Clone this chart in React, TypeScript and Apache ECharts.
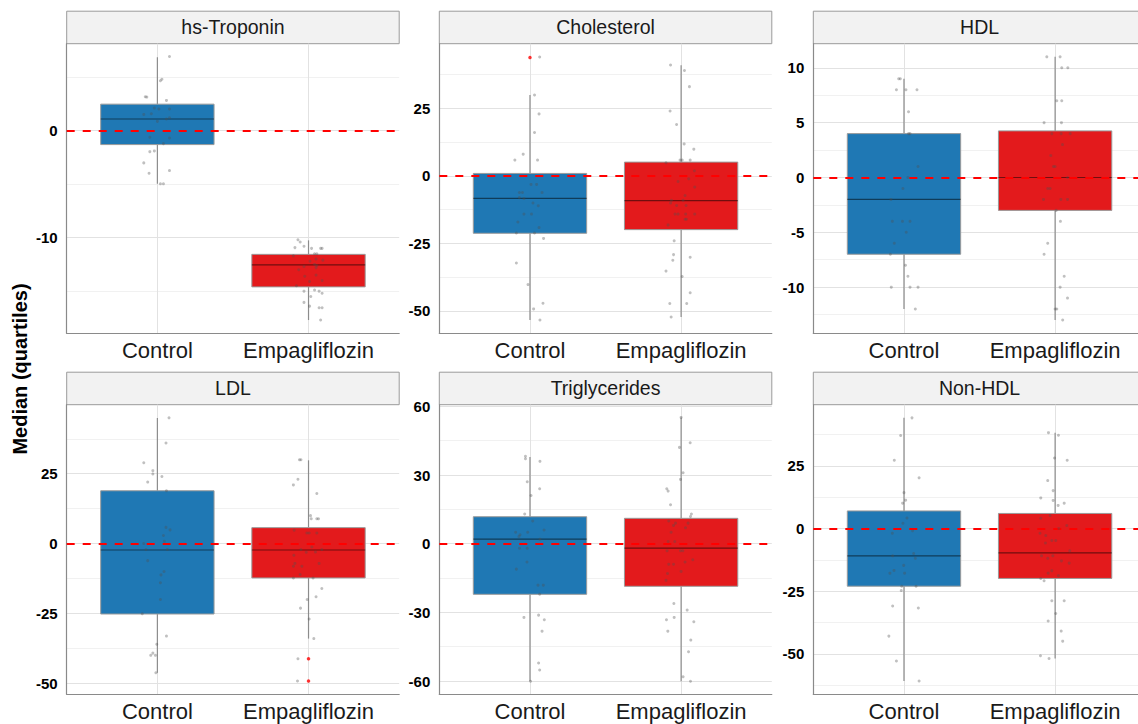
import React, { useEffect, useRef } from "react";
import * as echarts from "echarts";

// ---------- DATA ----------
const groups = ["Control", "Empagliflozin"];
const groupColors = ["#1F78B4", "#E31A1C"];
const panelTitles = ["hs-Troponin", "Cholesterol", "HDL", "LDL", "Triglycerides", "Non-HDL"];
const yTitle = "Median (quartiles)";

// y-axis ranges per panel
const yRanges = [
  [-18.93, 8.13],
  [-58.3, 48.9],
  [-14.2, 12.2],
  [-53.9, 49.7],
  [-65.75, 60.75],
  [-66.05, 49.35],
];
const majorTicks = [
  [-10, 0],
  [-50, -25, 0, 25],
  [-10, -5, 0, 5, 10],
  [-50, -25, 0, 25],
  [-60, -30, 0, 30, 60],
  [-50, -25, 0, 25],
];
const minorTicks = [
  [-15, -5, 5],
  [-37.5, -12.5, 12.5, 37.5],
  [-12.5, -7.5, -2.5, 2.5, 7.5],
  [-37.5, -12.5, 12.5, 37.5],
  [-45, -15, 15, 45],
  [-62.5, -37.5, -12.5, 12.5, 37.5],
];

// box stats: [lower whisker, Q1, median, Q3, upper whisker] for Control, Empagliflozin
const troponinStats = [[-4.97, -1.3, 1.09, 2.48, 6.87], [-17.7, -14.6, -12.55, -11.56, -10.25]];
const cholesterolStats = [[-53.4, -21.3, -8.4, 0.86, 29.9], [-52.3, -19.95, -9.2, 5.05, 40.9]];
const hdlStats = [[-12, -7, -2, 4, 9], [-13, -3, 0, 4.25, 11]];
const ldlStats = [[-46.2, -25.2, -2.3, 18.9, 44.9], [-34, -12.3, -2.3, 5.7, 29.8]];
const trigStats = [[-60.1, -22.1, 2, 11.8, 37.9], [-60.1, -18.6, -1.9, 11.1, 55.2]];
const nonHdlStats = [[-60.8, -23, -10.9, 7, 44.1], [-51.8, -19.9, -9.7, 6, 38.2]];

// jittered observations [x position, value]
const troponinPts = [
  [1.08, 6.93], [1.03, 4.8], [1.02, 4.66], [0.92, 3.17], [0.93, 3.14], [1.06, 2.83], [0.98, 2.11], [1.01, 2.02], [1.08, 2.02],
  [0.91, 1.52], [0.96, 1.58], [1.08, 1.21], [1.06, 1.09], [1.0, 0.87], [0.95, -0.62], [1.08, -0.68], [1.04, -1.21], [0.95, -1.96],
  [0.98, -1.89], [0.91, -3.01], [0.945, -3.98], [1.08, -3.73], [1.02, -4.97], [1.04, -4.97],
  [1.93, -10.2], [1.945, -10.4], [1.97, -10.8], [1.91, -10.93], [2.02, -11.0], [2.08, -11.0], [2.09, -11.0], [1.9, -11.7], [2.04, -11.5],
  [2.055, -11.5], [2.01, -12.2], [2.05, -12.0], [2.095, -12.1], [2.04, -12.5], [2.055, -12.6], [1.935, -13.0], [1.97, -12.7], [2.05, -12.8],
  [1.975, -13.6], [2.05, -13.5], [2.007, -14.1], [2.09, -14.0], [1.92, -14.5], [1.97, -15.0], [2.04, -14.9], [2.07, -15.0], [2.09, -15.2],
  [2.015, -15.5], [1.97, -16.05], [2.007, -16.4], [2.07, -16.55], [2.09, -16.55], [2.08, -17.7],
];
const cholesterolPts = [
  [1.064, 44], [1.03, 29.9], [1.06, 22.9], [1.03, 16], [0.955, 8], [0.9, 5.8], [1.05, 5.8], [1.007, -3.2], [1.044, -3.2], [0.93, -6.2],
  [0.95, -6.2], [1.08, -6.2], [0.93, -8.1], [0.96, -8.4], [1.02, -10.1], [1.055, -11.1], [0.96, -14.2], [1.01, -14.2], [0.92, -17.1],
  [1.06, -19.2], [0.91, -21.2], [1.03, -21.2], [1.09, -23.2], [0.91, -32.3], [0.987, -40.3], [1.024, -49.3], [1.086, -47.2], [1.066, -53.4],
  [1.93, 41], [2.022, 39], [2.055, 33], [1.927, 24], [1.97, 19], [2.02, 11.8], [2.084, 9.85], [1.993, 5.8], [2.007, 5.8], [2.06, 5.8],
  [1.9, 4.8], [2.088, 1.85], [2.05, -1.1], [1.98, -2.1], [2.09, -4.2], [2.026, -7.3], [1.936, -9.1], [1.93, -10.1], [2.013, -9.1], [1.97, -11],
  [2.033, -11], [1.96, -14.2], [1.98, -14.2], [2.03, -14.2], [2.09, -14.2], [2.026, -16.1], [2.035, -16.1], [1.914, -18.2], [1.954, -24.1],
  [1.95, -29.2], [1.945, -31.3], [2.06, -30.2], [1.9, -35.3], [2.007, -37.3], [2.06, -43.3], [1.925, -47.3], [2.037, -47.3], [1.934, -52.3],
];
const hdlPts = [
  [0.965, 9], [0.976, 9], [0.95, 8], [1.013, 8], [1.086, 8], [1.03, 6], [1.03, 4], [1.04, 4], [1.093, 1], [1.026, 0], [0.993, -1], [0.914, -2],
  [0.923, -4], [0.99, -4], [1.04, -4], [1.015, -5], [0.936, -6], [0.91, -7], [1.01, -8], [1.026, -9], [0.916, -10], [1.04, -10], [1.093, -10],
  [1.075, -12],
  [1.945, 11], [2.033, 11], [2.044, 10], [2.084, 10], [2.011, 7], [2.044, 7], [1.927, 5], [2.042, 5], [1.978, 4], [2.04, 4], [2.1, 4], [2.049, 3],
  [1.971, 2], [1.989, 1], [2.0, 1], [2.082, 0], [1.951, -1], [1.967, -1], [1.923, -2], [2.038, -2], [2.082, -2], [2.007, -3], [2.035, -4],
  [1.951, -6], [1.927, -7], [2.06, -9], [2.033, -10], [2.082, -11], [2.0, -12], [2.011, -12], [2.05, -13],
];
const ldlPts = [
  [1.077, 45], [1.057, 36], [0.91, 28.9], [0.97, 26.1], [0.97, 24.9], [1.03, 24], [0.936, 22], [1.06, 18.9], [1.057, 5.8], [1.084, 4.9],
  [1.04, 2.9], [1.046, 0.8], [0.91, 0], [0.925, -2.1], [1.066, -2.1], [0.936, -6.1], [1.044, -10], [1.024, -11.2], [1.02, -14], [1.02, -20],
  [0.9, -25.1], [1.06, -33.1], [0.996, -36], [0.956, -40], [0.97, -39.2], [0.987, -40], [0.99, -46.2],
  [1.94, 30], [1.95, 30], [1.93, 23], [1.9, 21], [2.055, 17.9], [2.013, 10], [2.018, 8.9], [2.055, 8.9], [2.066, 8.9], [1.905, 4.8],
  [1.989, 3.8], [2.004, 3.8], [2.055, 3.8], [1.95, -2.1], [2.022, -1.2], [2.046, -3], [1.985, -3.1], [2.088, -2.1], [1.903, -4.2],
  [2.07, -7.1], [1.91, -7.1], [1.9, -8.1], [1.956, -8.1], [1.945, -11.1], [1.9, -12.3], [2.03, -12.3], [2.088, -16.1], [1.991, -20],
  [2.05, -19], [1.947, -23.1], [2.004, -27], [2.035, -34], [1.93, -41.2], [1.927, -49.2],
];
const trigPts = [
  [0.97, 38.2], [0.97, 37.1], [1.066, 36], [0.982, 27.1], [1.064, 24], [1.007, 21.1], [0.965, 13], [1.018, 9.9], [1.093, 6], [0.905, 5],
  [0.934, 3.9], [0.985, 5], [0.927, 3.1], [1.066, 2], [0.93, -2], [0.982, -2], [0.98, -8], [0.91, -11.1], [1.053, -18.1], [1.088, -18.1],
  [1.064, -22.1], [1.057, -31.2], [0.96, -32.2], [1.095, -33.2], [1.08, -38.2], [1.057, -52.1], [1.064, -55.2], [1.004, -60.1],
  [2, 55.2], [2.06, 44.1], [1.989, 42.1], [2.013, 31], [1.996, 28.1], [1.905, 24], [1.914, 23], [1.93, 17], [2.068, 13], [2.062, 11.9],
  [1.918, 9.9], [1.963, 9], [1.95, 8], [2.029, 7], [2.046, 9], [1.934, 5], [1.914, 1], [1.958, 1], [1.907, -3.1], [1.996, -3.1], [2.011, -3.1],
  [2.077, -7], [2.026, -8], [1.918, -9], [1.95, -9], [2, -12.1], [1.91, -13], [1.9, -16], [1.952, -26.1], [2.04, -29], [1.954, -32.2],
  [1.903, -33.2], [2.084, -34.1], [1.912, -38.2], [2.064, -42.1], [2.049, -47.2], [2.013, -58.1], [2.062, -60.1],
];
const nonHdlPts = [
  [1.053, 44.1], [0.978, 37.1], [0.936, 27.2], [1.1, 20.2], [1.0, 14.3], [0.991, 10.1], [1.011, 11.3], [1.02, 4.2], [0.993, 2.1], [1.057, -0.9],
  [0.923, -1.9], [1.064, -10], [1.075, -11.9], [0.925, -10.9], [0.998, -14.7], [0.934, -16.7], [0.907, -17.8], [1.004, -17.8], [0.985, -23],
  [1.08, -23], [0.982, -24.7], [1.095, -31.7], [0.925, -30.9], [0.9, -42.9], [0.95, -52.8], [1.1, -60.8],
  [1.956, 38.2], [2.022, 37.2], [1.996, 28.1], [2.08, 27.2], [1.951, 19.1], [1.987, 15.1], [1.905, 12.2], [1.987, 11.2], [2.02, 9.2],
  [2.06, 10.1], [1.905, 4.1], [1.967, 5.2], [2.077, 1.2], [2.024, 0], [1.9, -1.9], [1.938, -2.8], [1.978, -4.8], [2.004, -4.8], [1.936, -5.8],
  [2.097, -8.9], [1.91, -10.9], [1.985, -10.9], [1.951, -11.9], [2.042, -12.9], [2.093, -13.8], [1.978, -16.8], [1.954, -17.8], [2.022, -18.8],
  [1.905, -19.9], [1.927, -20.8], [1.978, -28.8], [2.06, -28.8], [2.004, -33.9], [1.954, -36.9], [2.04, -40.9], [2.05, -44.9], [1.903, -50.7],
  [1.96, -51.8],
];

// outliers [x position, value]
const cholesterolOutliers = [[1, 43.8]];
const ldlOutliers = [[2, -41.2], [2, -49.2]];

const panelStats = [troponinStats, cholesterolStats, hdlStats, ldlStats, trigStats, nonHdlStats];
const panelPts = [troponinPts, cholesterolPts, hdlPts, ldlPts, trigPts, nonHdlPts];
const panelOutliers = [[], cholesterolOutliers, [], ldlOutliers, [], []];

// ---------- LAYOUT ----------
const colLeft = [66.7, 439.3, 813.3];
const rowTop = [43.7, 404.7];
const panelW = 332.5;
const panelH = 289.5;
const stripH = 32.5;
const FONT = "'Liberation Sans', Arial, Helvetica, sans-serif";

function buildOption() {
  const grid: any[] = [];
  const xAxis: any[] = [];
  const yAxis: any[] = [];
  const series: any[] = [];
  const graphic: any[] = [];

  for (let p = 0; p < 6; p++) {
    const left = colLeft[p % 3];
    const top = rowTop[Math.floor(p / 3)];
    grid.push({ left, top, width: panelW, height: panelH, outerBoundsMode: "none", containLabel: false });

    xAxis.push({
      type: "value",
      gridIndex: p,
      min: 0.4,
      max: 2.6,
      axisLine: { show: true, onZero: false, lineStyle: { color: "#8a8a8a", width: 1.2 } },
      axisTick: { show: false, customValues: [1, 2] },
      axisLabel: {
        customValues: [1, 2],
        formatter: (v: number) => groups[Math.round(v) - 1] || "",
        fontFamily: FONT,
        fontSize: 22,
        color: "#1a1a1a",
        margin: 6,
      },
      splitLine: { show: true, lineStyle: { color: "#e2e2e2", width: 1 } },
    });

    yAxis.push({
      type: "value",
      gridIndex: p,
      min: yRanges[p][0],
      max: yRanges[p][1],
      position: "left",
      axisLine: { show: true, onZero: false, lineStyle: { color: "#8a8a8a", width: 1.2 } },
      axisTick: { show: false, customValues: majorTicks[p] },
      axisLabel: {
        customValues: majorTicks[p],
        fontFamily: FONT,
        fontSize: 15,
        fontWeight: "bold",
        color: "#000",
        margin: 9,
      },
      splitLine: { show: true, lineStyle: { color: "#e2e2e2", width: 1 } },
    });
    yAxis.push({
      type: "value",
      gridIndex: p,
      min: yRanges[p][0],
      max: yRanges[p][1],
      position: "left",
      axisLine: { show: false },
      axisTick: { show: false, customValues: minorTicks[p] },
      axisLabel: { show: false, customValues: minorTicks[p] },
      splitLine: { show: true, lineStyle: { color: "#f1f1f1", width: 1 } },
    });

    const yIdx = p * 2;
    const boxData = panelStats[p].map((s, i) => [i + 1, ...s]);
    series.push({
      type: "custom",
      coordinateSystem: "cartesian2d",
      xAxisIndex: p,
      yAxisIndex: yIdx,
      z: 2,
      silent: true,
      encode: { x: 0, y: [1, 2, 3, 4, 5] },
      data: boxData,
      renderItem: (params: any, api: any) => {
        const x = api.value(0);
        const lo = api.coord([x, api.value(1)]);
        const q1 = api.coord([x, api.value(2)]);
        const med = api.coord([x, api.value(3)]);
        const q3 = api.coord([x, api.value(4)]);
        const hi = api.coord([x, api.value(5)]);
        const l = api.coord([x - 0.375, 0])[0];
        const r = api.coord([x + 0.375, 0])[0];
        const color = groupColors[params.dataIndex];
        return {
          type: "group",
          children: [
            { type: "line", shape: { x1: lo[0], y1: lo[1], x2: q1[0], y2: q1[1] }, style: { stroke: "#8c8c8c", lineWidth: 1.2 } },
            { type: "line", shape: { x1: q3[0], y1: q3[1], x2: hi[0], y2: hi[1] }, style: { stroke: "#8c8c8c", lineWidth: 1.2 } },
            { type: "rect", shape: { x: l, y: q3[1], width: r - l, height: q1[1] - q3[1] }, style: { fill: color, stroke: "#9a9a9a", lineWidth: 1 } },
            { type: "line", shape: { x1: l, y1: med[1], x2: r, y2: med[1] }, style: { stroke: "rgba(0,0,0,0.5)", lineWidth: 1.2 } },
          ],
        };
      },
    });

    series.push({
      type: "scatter",
      xAxisIndex: p,
      yAxisIndex: yIdx,
      z: 4,
      silent: true,
      symbol: "circle",
      symbolSize: 3,
      itemStyle: { color: "rgba(80,80,80,0.45)" },
      data: panelPts[p],
      markLine: {
        silent: true,
        z: 3,
        symbol: ["none", "none"],
        label: { show: false },
        emphasis: { disabled: true },
        lineStyle: { color: "#FF0000", type: [8, 8], width: 2.2 },
        data: [{ yAxis: 0 }],
      },
    });

    if (panelOutliers[p].length) {
      series.push({
        type: "scatter",
        xAxisIndex: p,
        yAxisIndex: yIdx,
        z: 5,
        silent: true,
        symbol: "circle",
        symbolSize: 3.5,
        itemStyle: { color: "#FF0000" },
        data: panelOutliers[p],
      });
    }

    graphic.push({
      type: "rect",
      silent: true,
      shape: { x: left, y: top - stripH, width: panelW, height: stripH },
      style: { fill: "#F2F2F2", stroke: "#9a9a9a", lineWidth: 1 },
    });
    graphic.push({
      type: "text",
      silent: true,
      x: left + panelW / 2,
      y: top - stripH / 2,
      style: {
        text: panelTitles[p],
        fontFamily: FONT,
        fontSize: 19.5,
        fill: "#1a1a1a",
        align: "center",
        verticalAlign: "middle",
        textAlign: "center",
        textVerticalAlign: "middle",
      },
    });
  }

  graphic.push({
    type: "text",
    silent: true,
    x: 20,
    y: 369,
    rotation: Math.PI / 2,
    style: {
      text: yTitle,
      fontFamily: FONT,
      fontSize: 20,
      fontWeight: "bold",
      fill: "#000",
      align: "center",
      verticalAlign: "middle",
      textAlign: "center",
      textVerticalAlign: "middle",
    },
  });

  return {
    animation: false,
    backgroundColor: "#ffffff",
    grid,
    xAxis,
    yAxis,
    series,
    graphic,
  };
}

export default function App() {
  const ref = useRef<HTMLDivElement>(null);
  useEffect(() => {
    if (!ref.current) return;
    const chart = echarts.init(ref.current, undefined, { renderer: "svg" });
    chart.setOption(buildOption() as any);
    return () => chart.dispose();
  }, []);
  return (
    <div
      ref={ref}
      style={{ position: "absolute", left: 0, top: 0, width: 1138, height: 724, background: "#fff" }}
    />
  );
}
